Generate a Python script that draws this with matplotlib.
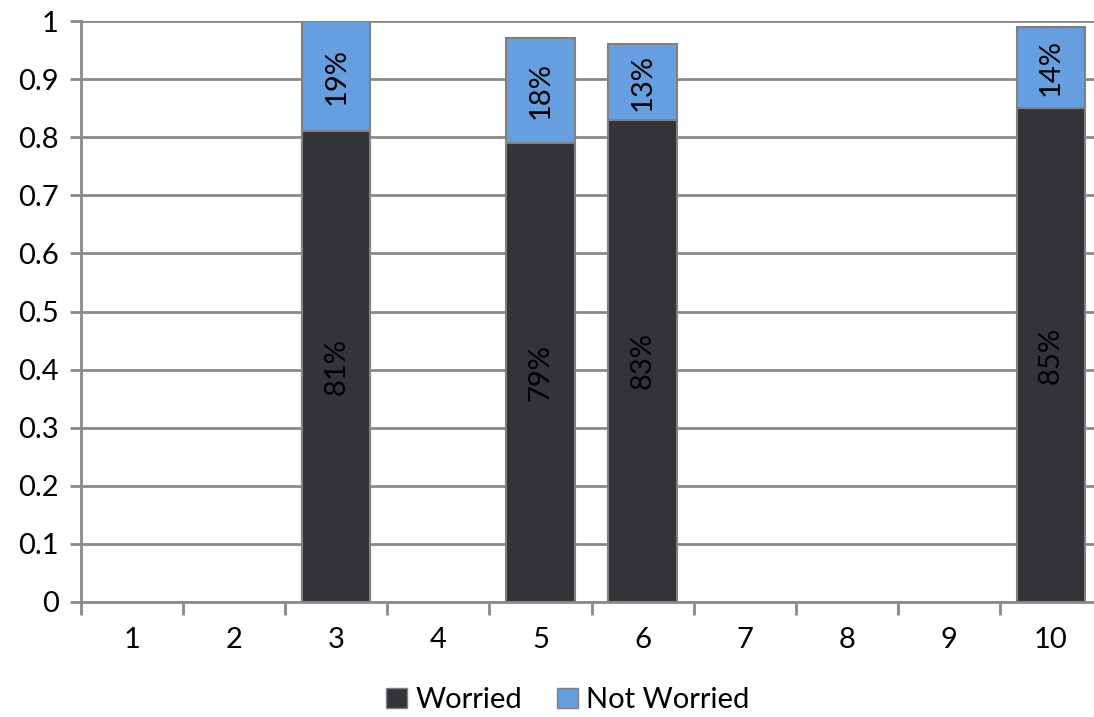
import matplotlib
matplotlib.use("Agg")
import matplotlib.pyplot as plt
import numpy as np
from matplotlib.patches import Patch

plt.rcParams['font.family'] = ['Lato', 'DejaVu Sans']

categories = ['1', '2', '3', '4', '5', '6', '7', '8', '9', '10']
worried = [0, 0, 0.81, 0, 0.79, 0.83, 0, 0, 0, 0.85]
not_worried = [0, 0, 0.19, 0, 0.18, 0.13, 0, 0, 0, 0.14]
yticks = [0, 0.1, 0.2, 0.3, 0.4, 0.5, 0.6, 0.7, 0.8, 0.9, 1]
ytick_labels = ['0', '0.1', '0.2', '0.3', '0.4', '0.5', '0.6', '0.7', '0.8', '0.9', '1']

c_w = '#333338'
c_n = '#659FE0'
edge = '#808080'
grid_c = '#8a8a8a'
fs = 21

fig = plt.figure(figsize=(10.94, 7.17), dpi=100)
ax = fig.add_axes([81/1094, 1 - 602/717, 1021/1094, (602 - 21)/717])

x = np.arange(len(categories))
w = 0.67
for i in range(len(categories)):
    if worried[i] + not_worried[i] == 0:
        continue
    ax.bar(x[i], worried[i], w, color=c_w, edgecolor=edge, linewidth=1.5, zorder=3)
    ax.bar(x[i], not_worried[i], w, bottom=worried[i], color=c_n, edgecolor=edge, linewidth=1.5, zorder=3)
    ax.text(x[i], worried[i] / 2, f"{round(worried[i]*100)}%", rotation=90,
            ha='center', va='center', fontsize=fs, color='black', zorder=4)
    ax.text(x[i], worried[i] + not_worried[i] / 2, f"{round(not_worried[i]*100)}%", rotation=90,
            ha='center', va='center', fontsize=fs, color='black', zorder=4)

ax.set_xlim(-0.5, len(categories) - 0.5)
ax.set_ylim(0, 1)
ax.set_yticks(yticks)
ax.set_yticklabels(ytick_labels, fontsize=fs)
ax.yaxis.grid(True, color=grid_c, linewidth=2, zorder=0)
ax.set_axisbelow(True)

ax.set_xticks(x)
ax.set_xticklabels(categories, fontsize=fs)
ax.tick_params(axis='x', which='major', length=0, pad=18)
ax.set_xticks(np.arange(-0.5, len(categories), 1), minor=True)
ax.tick_params(axis='x', which='minor', length=9, width=2, color=grid_c, direction='out')
ax.tick_params(axis='y', length=8, width=2, color=grid_c, pad=8)

for s in ['top', 'right']:
    ax.spines[s].set_visible(False)
for s in ['left', 'bottom']:
    ax.spines[s].set_color(grid_c)
    ax.spines[s].set_linewidth(2)

handles = [Patch(facecolor=c_w, edgecolor=edge, label='Worried'),
           Patch(facecolor=c_n, edgecolor=edge, label='Not Worried')]
fig.legend(handles=handles, loc='center', bbox_to_anchor=(568/1094, 1 - 700/717), ncol=2,
           frameon=False, fontsize=fs, handlelength=0.7, handleheight=0.7,
           handletextpad=0.3, columnspacing=1.2, borderpad=0)

fig.savefig('out.png', dpi=100, facecolor='white')
